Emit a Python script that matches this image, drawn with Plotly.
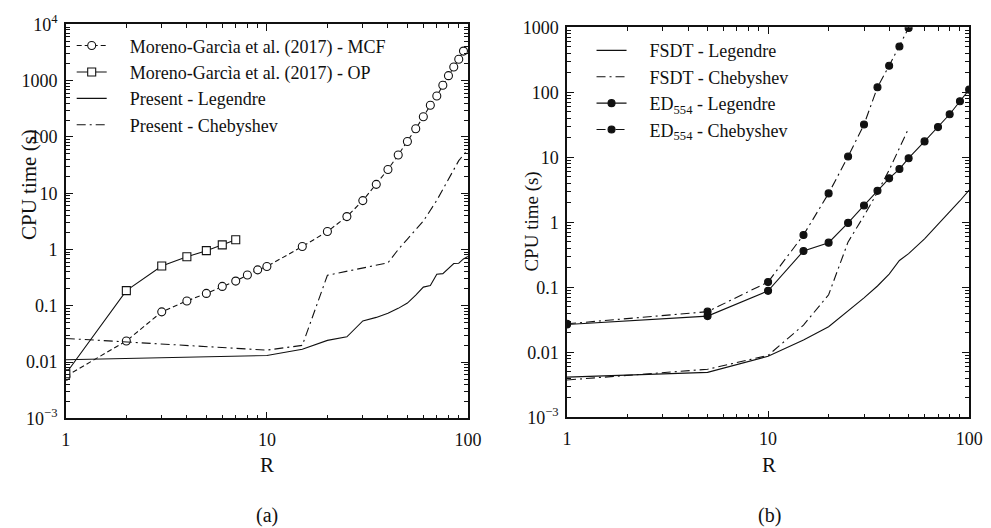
import plotly.graph_objects as go

# ---------------- data: panel (a) ----------------
R_mcf = [1, 2, 3, 4, 5, 6, 7, 8, 9, 10, 15, 20, 25, 30, 35, 40, 45, 50, 55, 60, 65, 70, 75, 80, 85, 90, 95]
t_mcf = [0.0056, 0.0237, 0.078, 0.122, 0.166, 0.221, 0.275, 0.353, 0.435, 0.50, 1.13, 2.09, 3.85, 7.4,
         14.4, 26.5, 48, 83, 140, 229, 367, 535, 830, 1230, 1758, 2404, 3365]

R_op = [1, 2, 3, 4, 5, 6, 7]
t_op = [0.0062, 0.186, 0.509, 0.743, 0.955, 1.21, 1.49]

R_leg = [1, 10, 15, 20, 25, 30, 35, 40, 45, 50, 55, 60, 65, 70, 75, 80, 85, 90, 95, 100]
t_leg = [0.011, 0.0131, 0.0169, 0.0243, 0.0281, 0.0538, 0.0622, 0.074, 0.09, 0.112, 0.155, 0.215,
         0.229, 0.363, 0.373, 0.46, 0.565, 0.572, 0.68, 0.754]

R_cheb = [1, 10, 15, 20, 40, 45, 50, 60, 70, 80, 90, 100]
t_cheb = [0.0263, 0.0163, 0.0198, 0.349, 0.58, 1.0, 1.53, 3.2, 7.5, 17.5, 38, 60]

# ---------------- data: panel (b) ----------------
R_fl = [1, 5, 10, 15, 20, 25, 30, 35, 40, 45, 50, 60, 70, 80, 90, 100]
t_fl = [0.00416, 0.00493, 0.00869, 0.0155, 0.0248, 0.0428, 0.0689, 0.105, 0.16, 0.259, 0.33, 0.557,
        0.92, 1.46, 2.15, 3.12]

R_fc = [1, 5, 10, 15, 20, 25, 30, 35, 40, 45, 50]
t_fc = [0.00376, 0.0055, 0.00898, 0.0263, 0.077, 0.5, 1.26, 2.9, 6.36, 13.5, 28]

R_el = [1, 5, 10, 15, 20, 25, 30, 35, 40, 45, 50, 60, 70, 80, 90, 100]
t_el = [0.0269, 0.0361, 0.0883, 0.363, 0.487, 0.98, 1.82, 3.05, 4.75, 6.6, 9.7, 17.6, 29.2, 46, 73, 110]

R_ec = [1, 5, 10, 15, 20, 25, 30, 35, 40, 45, 50]
t_ec = [0.0275, 0.0423, 0.121, 0.64, 2.79, 10.3, 32, 120, 257, 507, 980]

x_ticks = [1, 10, 100]
x_ticktext = ["1", "10", "100"]
ya_ticks = [1e-3, 1e-2, 1e-1, 1, 10, 100, 1000, 1e4]
ya_text = ["10<sup>\u22123</sup>", "0.01", "0.1", "1", "10", "100", "1000", "10<sup>4</sup>"]
yb_ticks = [1e-3, 1e-2, 1e-1, 1, 10, 100, 1000]
yb_text = ["10<sup>\u22123</sup>", "0.01", "0.1", "1", "10", "100", "1000"]

FONT = "Liberation Serif"
BLACK = "#111111"
DASHDOT = "9px,4px,2px,4px"

fig = go.Figure()

def add(x, y, name, dash, xa, ya, legend, symbol=None, fill="white", sp=4, msize=8):
    kw = dict(x=x, y=y, name="\u00a0" * sp + name, xaxis=xa, yaxis=ya, legend=legend,
              line=dict(color=BLACK, width=1.1, dash=dash))
    if symbol:
        kw["mode"] = "lines+markers"
        kw["marker"] = dict(symbol=symbol, size=msize, color=fill, line=dict(color=BLACK, width=1.1))
    else:
        kw["mode"] = "lines"
    fig.add_trace(go.Scatter(**kw))

add(R_mcf, t_mcf, "Moreno-Garcìa et al. (2017) - MCF", "5px,3px", "x", "y", "legend", "circle", "white")
add(R_op, t_op, "Moreno-Garcìa et al. (2017) - OP", "solid", "x", "y", "legend", "square", "white")
add(R_leg, t_leg, "Present - Legendre", "solid", "x", "y", "legend")
add(R_cheb, t_cheb, "Present - Chebyshev", DASHDOT, "x", "y", "legend")

add(R_fl, t_fl, "FSDT - Legendre", "solid", "x2", "y2", "legend2", sp=4)
add(R_fc, t_fc, "FSDT - Chebyshev", DASHDOT, "x2", "y2", "legend2", sp=4)
add(R_el, t_el, "ED<sub>554</sub> - Legendre", "solid", "x2", "y2", "legend2", "circle", BLACK, sp=4, msize=7)
add(R_ec, t_ec, "ED<sub>554</sub> - Chebyshev", DASHDOT, "x2", "y2", "legend2", "circle", BLACK, sp=4, msize=7)

W, H = 991, 528

def minor_vals(lo, hi):
    out = []
    for e in range(lo, hi):
        for m in range(2, 10):
            out.append(m * 10 ** e)
    return out

def xaxis(dom, anchor):
    return dict(type="log", range=[0, 2], domain=dom, anchor=anchor,
                tickmode="array", tickvals=x_ticks, ticktext=x_ticktext,
                ticks="inside", ticklen=7, tickwidth=1, tickcolor=BLACK,
                minor=dict(tickmode="array", tickvals=minor_vals(0, 2), ticks="inside",
                           ticklen=4, tickwidth=1, tickcolor=BLACK, showgrid=False),
                showline=True, linecolor=BLACK, linewidth=1.5, mirror="allticks",
                showgrid=False, zeroline=False,
                tickfont=dict(family=FONT, size=18, color=BLACK), ticklabelstandoff=4)

def yaxis(dom, anchor, rng, vals, text, fs):
    return dict(type="log", range=rng, domain=dom, anchor=anchor,
                tickmode="array", tickvals=vals, ticktext=text,
                ticks="inside", ticklen=7, tickwidth=1, tickcolor=BLACK,
                minor=dict(tickmode="array", tickvals=minor_vals(rng[0], rng[1]), ticks="inside",
                           ticklen=4, tickwidth=1, tickcolor=BLACK, showgrid=False),
                showline=True, linecolor=BLACK, linewidth=1.5, mirror="allticks",
                showgrid=False, zeroline=False,
                tickfont=dict(family=FONT, size=fs, color=BLACK), ticklabelstandoff=3)

fig.update_layout(
    width=W, height=H,
    margin=dict(l=0, r=0, t=0, b=0),
    paper_bgcolor="white", plot_bgcolor="white",
    font=dict(family=FONT, size=18, color=BLACK),
    xaxis=xaxis([62 / W, 472 / W], "y"),
    yaxis=yaxis([1 - 424 / H, 1 - 13 / H], "x", [-3, 4], ya_ticks, ya_text, 18),
    xaxis2=xaxis([573 / W, 983 / W], "y2"),
    yaxis2=yaxis([1 - 423 / H, 1 - 16 / H], "x2", [-3, 3], yb_ticks, yb_text, 18),
    legend=dict(x=68 / W, y=1 - 16 / H, xanchor="left", yanchor="top",
                bgcolor="rgba(0,0,0,0)", borderwidth=0, itemwidth=30,
                font=dict(family=FONT, size=18, color=BLACK), tracegroupgap=0),
    legend2=dict(x=598 / W, y=1 - 21 / H, xanchor="left", yanchor="top",
                 bgcolor="rgba(0,0,0,0)", borderwidth=0, itemwidth=30,
                 font=dict(family=FONT, size=18, color=BLACK), tracegroupgap=0),
    showlegend=True,
)

ann = [
    dict(text="CPU time (s)", x=25 / W, y=1 - 180 / H, textangle=-90, size=21),
    dict(text="CPU time (s)", x=537 / W, y=1 - 219 / H, textangle=-90, size=19),
    dict(text="R", x=267 / W, y=1 - 473 / H, textangle=0, size=21),
    dict(text="R", x=779 / W, y=1 - 473 / H, textangle=0, size=21),
    dict(text="(a)", x=267 / W, y=1 - 525 / H, textangle=0, size=20),
    dict(text="(b)", x=779 / W, y=1 - 525 / H, textangle=0, size=20),
]
for a in ann:
    fig.add_annotation(text=a["text"], x=a["x"], y=a["y"], xref="paper", yref="paper",
                       xanchor="center", yanchor="middle", showarrow=False, textangle=a["textangle"],
                       font=dict(family=FONT, size=a["size"], color=BLACK))

fig.write_html("out.html")
